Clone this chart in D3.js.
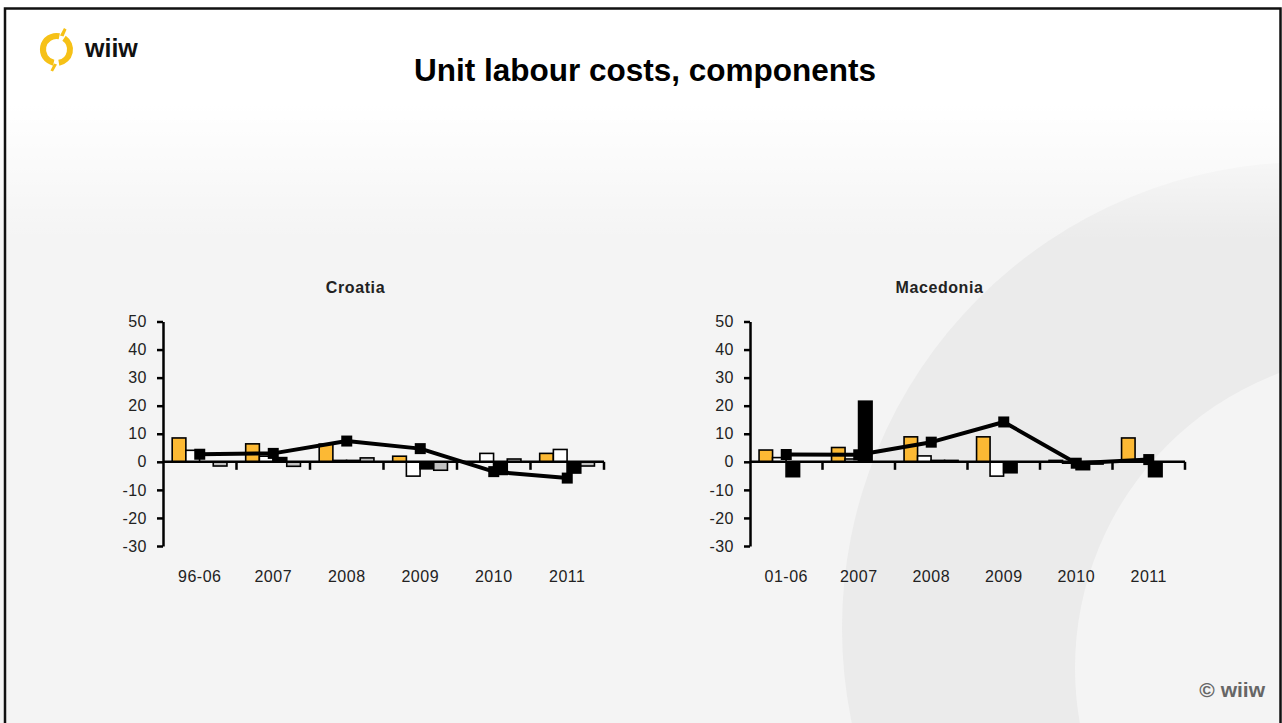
<!DOCTYPE html>
<html>
<head>
<meta charset="utf-8">
<script src="https://cdn.jsdelivr.net/npm/d3@7/dist/d3.min.js"></script>
<style>
  html, body { margin: 0; padding: 0; background: #f4f4f4; }
  svg { display: block; }
</style>
</head>
<body>
<svg id="slide" width="1282" height="723"></svg>
<script>
// ---- Data -------------------------------------------------------------
const categoriesHR = ["96-06", "2007", "2008", "2009", "2010", "2011"];
const categoriesMK = ["01-06", "2007", "2008", "2009", "2010", "2011"];
const yTickValues = [50, 40, 30, 20, 10, 0, -10, -20, -30];

// Croatia, annual change in %
const hrWages       = [8.5, 6.4, 6.3, 2.0, 0, 3.0];
const hrProductivity = [4.1, 2.0, 0.5, -5.1, 3.0, 4.4];
const hrExchange    = [0, 1.5, 0.5, -2.5, -4.5, -4.0];
const hrPrices      = [-1.5, -1.6, 1.4, -3.0, 1.0, -1.5];
const hrULC         = [2.7, 3.0, 7.4, 4.7, -3.5, -5.8];

// Macedonia, annual change in %
const mkWages       = [4.2, 5.1, 8.9, 8.9, 0.5, 8.5];
const mkProductivity = [1.5, 1.0, 2.1, -5.1, -0.5, 0.5];
const mkExchange    = [-5.3, 21.6, 0.5, -3.9, -2.8, -5.3];
const mkPrices      = [0, 0, 0.5, 0, -0.8, 0];
const mkULC         = [2.6, 2.5, 7.0, 14.2, -0.5, 0.8];

const seriesKeys = ["wages", "productivity", "exchange", "prices"];
const seriesFill = { wages: "#fcb934", productivity: "#ffffff", exchange: "#000000", prices: "#c0c0c0" };

// ---- Slide background ---------------------------------------------------
const svg = d3.select("#slide");
const W = 1282, H = 723;
const defs = svg.append("defs");

const fade = defs.append("linearGradient")
  .attr("id", "topFade")
  .attr("gradientUnits", "userSpaceOnUse")
  .attr("x1", 0).attr("y1", 105).attr("x2", 0).attr("y2", 240);
fade.append("stop").attr("offset", 0).attr("stop-color", "#ffffff").attr("stop-opacity", 1);
fade.append("stop").attr("offset", 1).attr("stop-color", "#ffffff").attr("stop-opacity", 0);

svg.append("rect").attr("width", W).attr("height", H).attr("fill", "#f4f4f4");
// decorative ring in the lower right
svg.append("circle").attr("cx", 1308).attr("cy", 628).attr("r", 466).attr("fill", "#ebebeb");
svg.append("circle").attr("cx", 1390).attr("cy", 668).attr("r", 315).attr("fill", "#f4f4f4");
svg.append("rect").attr("width", W).attr("height", 105).attr("fill", "#ffffff");
svg.append("rect").attr("y", 105).attr("width", W).attr("height", 135).attr("fill", "url(#topFade)");

// frame
svg.append("path")
  .attr("d", `M5,${H} L5,8.5 L1280.5,8.5 L1280.5,${H}`)
  .attr("fill", "none").attr("stroke", "#111").attr("stroke-width", 2.5);

// ---- Logo -----------------------------------------------------------------
const logo = svg.append("g").attr("transform", "translate(56.5,49.5)");
const deg = Math.PI / 180;
const ring = d3.arc().innerRadius(10.5).outerRadius(16.5);
logo.append("path").attr("d", ring({ startAngle: 192 * deg, endAngle: 372 * deg })).attr("fill", "#f6c117");
logo.append("path").attr("d", ring({ startAngle: 34 * deg, endAngle: 170 * deg })).attr("fill", "#f6c117");
logo.append("path").attr("d", "M3.5,-14 L7.5,-21.5 L10,-20 L7,-13 Z").attr("fill", "#f6c117");
logo.append("path").attr("d", "M-2.5,14 L-6,21 L-3.5,22 L0.5,15 Z").attr("fill", "#f6c117");
svg.append("text").attr("x", 85).attr("y", 57)
  .attr("font-family", "Liberation Sans, Arial, sans-serif").attr("font-weight", "bold")
  .attr("font-size", 25).attr("fill", "#111").text("wiiw");

// ---- Titles -----------------------------------------------------------------
svg.append("text").attr("x", 645).attr("y", 81).attr("text-anchor", "middle")
  .attr("font-family", "Liberation Sans, Arial, sans-serif").attr("font-weight", "bold")
  .attr("font-size", 31.5).attr("fill", "#000").text("Unit labour costs, components");

svg.append("text").attr("x", 1265).attr("y", 697).attr("text-anchor", "end")
  .attr("font-family", "Liberation Sans, Arial, sans-serif").attr("font-weight", "bold")
  .attr("font-size", 21).attr("fill", "#666").text("© wiiw");

// ---- Panels -------------------------------------------------------------------
const fmtTick = d => String(d);   // plain hyphen for negatives

function drawPanel(cfg) {
  const g = svg.append("g");
  const y = d3.scaleLinear().domain([-30, 50]).range([546, 321.5]);
  const x0 = d3.scaleBand().domain(cfg.categories).range([cfg.left, cfg.right]).paddingInner(0).paddingOuter(0);
  const bw = x0.bandwidth();
  const x1 = d3.scaleBand().domain(seriesKeys).range([bw * 0.125, bw * 0.87]).padding(0);

  const rows = cfg.categories.map((c, i) => ({
    cat: c,
    wages: cfg.wages[i], productivity: cfg.productivity[i],
    exchange: cfg.exchange[i], prices: cfg.prices[i], ulc: cfg.ulc[i]
  }));

  // panel title
  g.append("text").attr("x", (cfg.left + cfg.right) / 2 - 28).attr("y", 293)
    .attr("text-anchor", "middle")
    .attr("font-family", "Liberation Sans, Arial, sans-serif").attr("font-weight", "bold")
    .attr("font-size", 16).attr("letter-spacing", 0.6).attr("fill", "#222").text(cfg.title);

  // y axis
  const yAxis = d3.axisLeft(y).tickValues(yTickValues).tickSize(6).tickSizeOuter(0).tickPadding(10)
    .tickFormat(fmtTick);
  const ya = g.append("g").attr("transform", `translate(${cfg.left},0)`).call(yAxis);
  ya.select(".domain").attr("stroke", "#000").attr("stroke-width", 2.5);
  ya.selectAll(".tick line").attr("stroke", "#000").attr("stroke-width", 2.5);
  ya.selectAll(".tick text")
    .attr("font-family", "Liberation Sans, Arial, sans-serif").attr("font-size", 16)
    .attr("letter-spacing", 0.5).attr("fill", "#222");

  // bars
  const groups = g.append("g").selectAll("g").data(rows).join("g")
    .attr("transform", d => `translate(${x0(d.cat)},0)`);
  groups.selectAll("rect")
    .data(d => seriesKeys.map(k => ({ key: k, value: d[k] })).filter(e => e.value !== 0))
    .join("rect")
    .attr("x", e => x1(e.key))
    .attr("width", x1.bandwidth())
    .attr("y", e => y(Math.max(0, e.value)))
    .attr("height", e => Math.abs(y(e.value) - y(0)))
    .attr("fill", e => seriesFill[e.key])
    .attr("stroke", "#000").attr("stroke-width", 1.6);

  // x axis along zero with tick marks at category boundaries
  const xa = g.append("g");
  xa.append("line").attr("x1", cfg.left).attr("x2", cfg.right)
    .attr("y1", y(0)).attr("y2", y(0)).attr("stroke", "#000").attr("stroke-width", 2.5);
  xa.selectAll("line.tick").data(cfg.categories).join("line").attr("class", "tick")
    .attr("x1", d => x0(d) + bw).attr("x2", d => x0(d) + bw)
    .attr("y1", y(0)).attr("y2", y(0) + 8).attr("stroke", "#000").attr("stroke-width", 2.5);
  xa.selectAll("text").data(cfg.categories).join("text")
    .attr("x", d => x0(d) + bw / 2).attr("y", 582).attr("text-anchor", "middle")
    .attr("font-family", "Liberation Sans, Arial, sans-serif").attr("font-size", 16)
    .attr("letter-spacing", 0.5).attr("fill", "#222").text(d => d);

  // unit labour cost line with square markers
  const line = d3.line().x(d => x0(d.cat) + bw / 2).y(d => y(d.ulc));
  g.append("path").datum(rows).attr("d", line)
    .attr("fill", "none").attr("stroke", "#000").attr("stroke-width", 4).attr("stroke-linejoin", "round");
  g.append("g").selectAll("rect").data(rows).join("rect")
    .attr("x", d => x0(d.cat) + bw / 2 - 5.5).attr("y", d => y(d.ulc) - 5.5)
    .attr("width", 11).attr("height", 11).attr("fill", "#000");
}

drawPanel({
  title: "Croatia", categories: categoriesHR, left: 163, right: 604,
  wages: hrWages, productivity: hrProductivity, exchange: hrExchange, prices: hrPrices, ulc: hrULC
});
drawPanel({
  title: "Macedonia", categories: categoriesMK, left: 750, right: 1185,
  wages: mkWages, productivity: mkProductivity, exchange: mkExchange, prices: mkPrices, ulc: mkULC
});
</script>
</body>
</html>
